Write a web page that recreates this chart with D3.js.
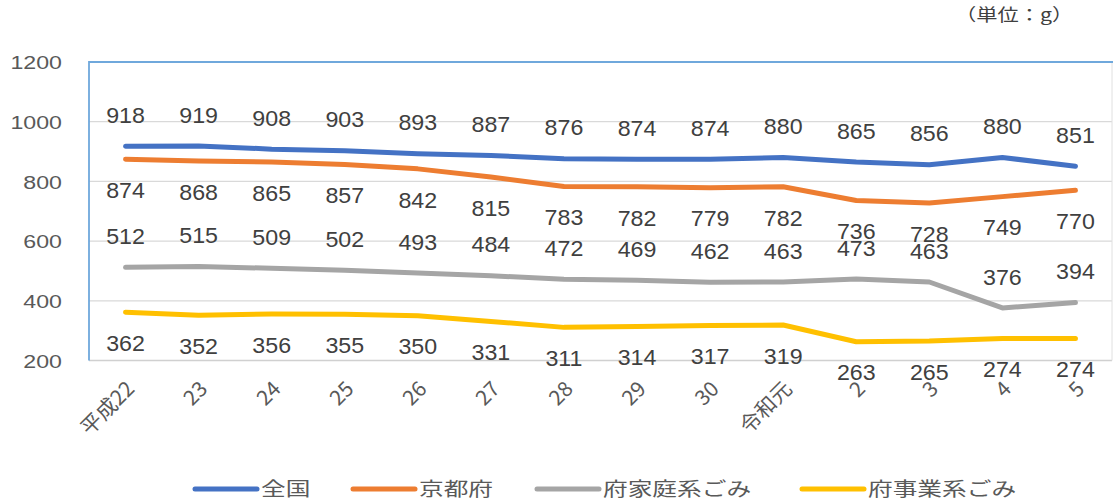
<!DOCTYPE html>
<html><head><meta charset="utf-8">
<script src="https://cdn.jsdelivr.net/npm/d3@7"></script>
<style>
html,body{margin:0;padding:0;background:#fff;}
svg{display:block;}
text{font-family:"Liberation Sans",Arial,"Noto Sans CJK JP",sans-serif;}
.cjk{font-family:"Noto Sans CJK JP","Liberation Sans",sans-serif;}
</style></head>
<body><svg id="chart" width="1113" height="502"></svg>
<script>
const categories = ["平成22","23","24","25","26","27","28","29","30","令和元","2","3","4","5"];
const zenkoku   = [918,919,908,903,893,887,876,874,874,880,865,856,880,851];
const kyotofu   = [874,868,865,857,842,815,783,782,779,782,736,728,749,770];
const katei     = [512,515,509,502,493,484,472,469,462,463,473,463,376,394];
const jigyo     = [362,352,356,355,350,331,311,314,317,319,263,265,274,274];
const seriesNames = ["全国","京都府","府家庭系ごみ","府事業系ごみ"];
const yTicks = [200,400,600,800,1000,1200];
const unitLabel = "（単位：g）";

const series = [
  {name: seriesNames[0], values: zenkoku, color: "#4472C4", pos: "above"},
  {name: seriesNames[1], values: kyotofu, color: "#ED7D31", pos: "below"},
  {name: seriesNames[2], values: katei,   color: "#A5A5A5", pos: "above"},
  {name: seriesNames[3], values: jigyo,   color: "#FFC000", pos: "below"}
];

const svg = d3.select("#chart");
const L = 89, R = 1112, T = 62, B = 360.5;
const x = d3.scalePoint().domain(categories).range([L, R]).padding(0.5);
const y = d3.scaleLinear().domain([200,1200]).range([B, T]);

// gridlines
svg.append("g").selectAll("line").data(yTicks.filter(d=>d>200 && d<1200)).join("line")
  .attr("x1", L).attr("x2", R).attr("y1", d=>y(d)).attr("y2", d=>y(d))
  .attr("stroke", "#d9d9d9").attr("stroke-width", 1.2);
// bottom axis line
svg.append("line").attr("x1", L).attr("x2", R).attr("y1", y(200)).attr("y2", y(200))
  .attr("stroke", "#d0d0d0").attr("stroke-width", 1.5);
// right border
svg.append("line").attr("x1", R).attr("x2", R).attr("y1", T).attr("y2", B)
  .attr("stroke", "#e0e0e0").attr("stroke-width", 1);
// plot border top & left (blue)
svg.append("path").attr("d", `M${R+2},${T}H${L}V${B}`)
  .attr("fill","none").attr("stroke","#6FA8DC").attr("stroke-width",1.8);

// y axis labels
const yAxis = d3.axisLeft(y).tickValues(yTicks).tickFormat(d3.format("d")).tickSize(0).tickPadding(0);
const ya = svg.append("g").attr("transform", `translate(62,0)`).call(yAxis);
ya.select(".domain").remove();
ya.selectAll("text").attr("fill","#595959").style("font-size","19px")
  .attr("x", 0).attr("dy","0.35em")
  .attr("transform", function(d){ return `translate(0,${y(d)}) scale(1.22,1) translate(0,${-y(d)})`; });

// x axis labels
const xa = svg.append("g");
xa.selectAll("text").data(categories).join("text")
  .attr("class","cjk")
  .attr("transform", d => `translate(${x(d)+5},${385}) rotate(-45)`)
  .attr("text-anchor","end").attr("dy","0.35em")
  .attr("fill","#595959").style("font-size","21px")
  .text(d=>d);

// lines
const line = d3.line().x((d,i)=>x(categories[i])).y(d=>y(d));
series.forEach(s=>{
  svg.append("path").datum(s.values).attr("d", line)
    .attr("fill","none").attr("stroke", s.color).attr("stroke-width",5)
    .attr("stroke-linejoin","round").attr("stroke-linecap","round");
});

// data labels
series.forEach(s=>{
  svg.append("g").selectAll("text").data(s.values).join("text")
    .attr("text-anchor","middle").attr("dy","0.36em")
    .attr("fill","#404040").style("font-size","21.5px")
    .attr("transform",(d,i)=>`translate(${x(categories[i])},${y(d) + (s.pos==="above"?-31:31)}) scale(1.08,1)`)
    .text(d=>d);
});

// unit label
svg.append("text").attr("class","cjk")
  .attr("transform","translate(955,15) scale(1.25,1)")
  .attr("dy","0.35em").attr("fill","#404040").style("font-size","17px")
  .text(unitLabel);

// legend
const legendX = [195, 353, 537, 802];
const lg = svg.append("g");
series.forEach((s,i)=>{
  const g = lg.append("g").attr("transform",`translate(${legendX[i]},489)`);
  g.append("line").attr("x1",0).attr("x2",62).attr("y1",0).attr("y2",0)
    .attr("stroke",s.color).attr("stroke-width",5).attr("stroke-linecap","round");
  g.append("text").attr("class","cjk")
    .attr("transform","translate(66,0) scale(1.3,1)")
    .attr("dy","0.35em").attr("fill","#595959").style("font-size","19px")
    .text(s.name);
});
</script></body></html>
